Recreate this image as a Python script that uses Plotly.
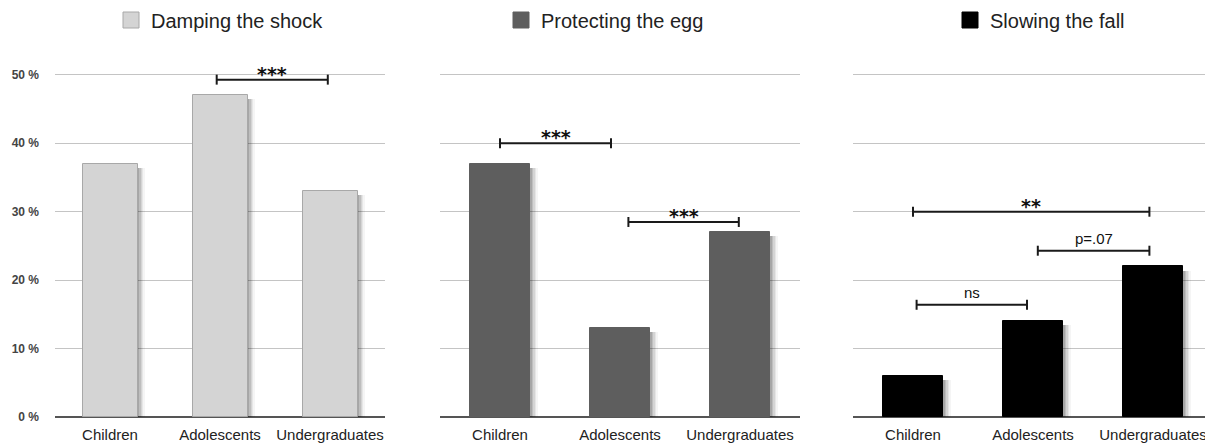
import plotly.graph_objects as go

# ---------------- data ----------------
categories = ["Children", "Adolescents", "Undergraduates"]
series_names = ["Damping the shock", "Protecting the egg", "Slowing the fall"]
damping = [37, 47, 33]
protecting = [37, 13, 27]
slowing = [6, 14, 22]
y_ticks = [0, 10, 20, 30, 40, 50]
y_tick_labels = ["0 %", "10 %", "20 %", "30 %", "40 %", "50 %"]

# significance brackets: (start category index, end category index, height %, label)
brackets_damping = [(0.97, 1.98, 49.3, "***")]
brackets_protecting = [(0.0, 0.925, 40.0, "***"), (1.07, 1.99, 28.5, "***")]
brackets_slowing = [(0.0, 1.97, 30.0, "**"), (1.04, 1.97, 24.3, "p=.07"), (0.03, 0.95, 16.4, "ns")]

# ---------------- layout helpers ----------------
OFF = 8                      # page body margin
W, H = 1213 - OFF, 448 - OFF
ML, MR, MT, MB = 55 - OFF, 0, 68 - OFF, 31
FONT = "Arial, 'Liberation Sans', Helvetica, sans-serif"
STAR_FONT = "'DejaVu Sans', Arial, sans-serif"


def px(xp):
    return (xp - OFF - ML) / (W - ML - MR)


def py(yp):
    return (H - MB - (yp - OFF)) / (H - MT - MB)


domains = [[px(55), px(385)], [px(440), px(800)], [px(853), px(1213)]]
colors = ["#d4d4d4", "#5e5e5e", "#000000"]
edge = ["#a8a8a8", "#5e5e5e", "#000000"]
values = [damping, protecting, slowing]
brackets = [brackets_damping, brackets_protecting, brackets_slowing]
legend_left_px = [111, 501, 950]

fig = go.Figure()
shapes, annotations = [], []

for i in range(3):
    xa = "x" if i == 0 else f"x{i+1}"
    ya = "y" if i == 0 else f"y{i+1}"
    lg = "legend" if i == 0 else f"legend{i+1}"
    vals = values[i]
    # soft drop shadow
    for off, op in [(0.065, 0.04), (0.052, 0.06), (0.04, 0.08), (0.028, 0.10), (0.016, 0.12)]:
        fig.add_trace(go.Bar(
            x=categories, y=[v - 0.6 for v in vals], width=0.5, offset=-0.25 + off,
            marker=dict(color=f"rgba(0,0,0,{op})", line=dict(width=0)),
            hoverinfo="skip", showlegend=False, xaxis=xa, yaxis=ya))
    fig.add_trace(go.Bar(
        x=categories, y=vals, width=0.5, offset=-0.25, name=series_names[i],
        marker=dict(color=colors[i], line=dict(color=edge[i], width=1)),
        showlegend=False, xaxis=xa, yaxis=ya))
    # legend entry
    fig.add_trace(go.Scatter(
        x=[None], y=[None], mode="markers", name=series_names[i],
        marker=dict(symbol="square", size=16, color=colors[i],
                    line=dict(color=edge[i] if i == 0 else colors[i], width=1)),
        legend=lg, xaxis=xa, yaxis=ya))

    for (x0, x1, yv, label) in brackets[i]:
        shapes.append(dict(type="line", xref=xa, yref=ya, x0=x0, x1=x1, y0=yv, y1=yv,
                           line=dict(color="#1a1a1a", width=2)))
        for xc in (x0, x1):
            shapes.append(dict(type="line", xref=xa, yref=ya, x0=xc, x1=xc,
                               ysizemode="pixel", yanchor=yv, y0=-5, y1=5,
                               line=dict(color="#1a1a1a", width=2)))
        star = label.startswith("*")
        annotations.append(dict(
            xref=xa, yref=ya, x=(x0 + x1) / 2, y=yv, text=label, showarrow=False,
            yanchor="middle", yshift=6 if star else 12,
            font=dict(family=STAR_FONT if star else FONT, size=19 if star else 15,
                      color="#111", weight="bold" if star else "normal"),
        ))

    axis_common = dict(domain=domains[i], type="category", categoryorder="array",
                       categoryarray=categories, range=[-0.5, 2.5], showgrid=False,
                       showline=False, zeroline=False, ticks="",
                       tickfont=dict(family=FONT, size=15, color="#222"),
                       ticklabelstandoff=7, fixedrange=True)
    if i > 0:
        axis_common["anchor"] = ya
    fig.layout[("xaxis" if i == 0 else f"xaxis{i+1}")] = axis_common
    yax = dict(range=[0, 51], tickvals=y_ticks, ticktext=y_tick_labels, showgrid=True,
               gridcolor="#c4c4c4", gridwidth=1, zeroline=True, zerolinecolor="#555",
               zerolinewidth=1.5, showline=False, ticks="", fixedrange=True,
               showticklabels=(i == 0), ticklabelstandoff=15,
               tickfont=dict(family=FONT, size=12, color="#444", weight="bold"))
    if i > 0:
        yax["anchor"] = xa
        yax["matches"] = "y"
    fig.layout[("yaxis" if i == 0 else f"yaxis{i+1}")] = yax

    fig.layout[lg] = dict(
        x=px(legend_left_px[i]), xanchor="left", y=py(20),
        yanchor="middle", orientation="h", bgcolor="rgba(0,0,0,0)",
        font=dict(family=FONT, size=20, color="#222"), itemsizing="trace")

fig.update_layout(
    width=W, height=H, barmode="overlay", bargap=0,
    margin=dict(l=ML, r=MR, t=MT, b=MB, pad=0, autoexpand=False),
    plot_bgcolor="white", paper_bgcolor="white",
    shapes=shapes, annotations=annotations,
    font=dict(family=FONT),
)

fig.write_html("out.html")
